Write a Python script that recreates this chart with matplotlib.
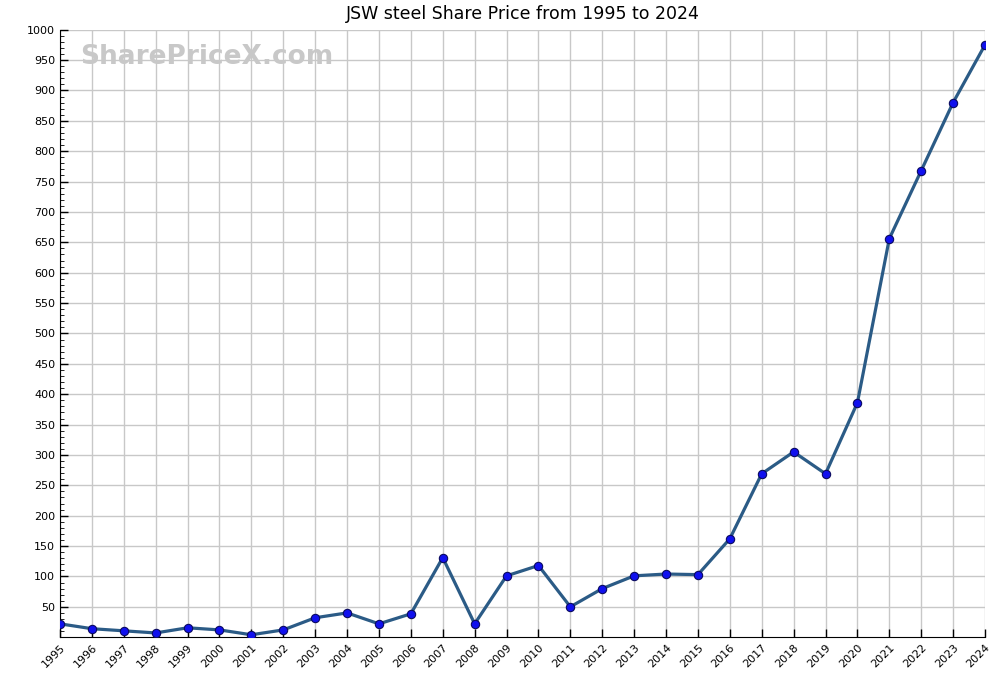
#!/usr/bin/env python3
import matplotlib
matplotlib.use("Agg")
import matplotlib.pyplot as plt
from matplotlib.ticker import MultipleLocator

years = list(range(1995, 2025))
prices = [22, 14, 10.5, 7, 15.5, 12, 4, 12, 32, 40, 22, 38.5, 131, 22, 101,
          118, 50, 80, 101, 104, 103, 162, 269, 305, 269, 386, 656, 768, 880, 975]
yticks = list(range(50, 1001, 50))

fig = plt.figure(figsize=(10, 6.75), dpi=100)
ax = fig.add_axes([0.06, 0.056, 0.925, 0.9])

ax.plot(years, prices, color="#2b5b86", linewidth=2.3, zorder=3)
ax.plot(years, prices, linestyle="none", marker="o", markersize=6,
        markerfacecolor="#1010ee", markeredgecolor="#0a0a60", markeredgewidth=0.8, zorder=4)

ax.set_xlim(1995, 2024)
ax.set_ylim(0, 1000)
ax.set_xticks(years)
ax.set_xticklabels([str(y) for y in years], rotation=45, ha="right", rotation_mode="anchor", fontsize=8)
ax.set_yticks(yticks)
ax.set_yticklabels([str(v) for v in yticks], fontsize=8)
ax.yaxis.set_minor_locator(MultipleLocator(10))
ax.tick_params(axis="both", direction="in", length=6, width=1)
ax.tick_params(axis="y", which="minor", direction="in", length=3)
ax.tick_params(axis="x", pad=4)
ax.grid(True, color="#c8c8c8", linewidth=1)
ax.set_axisbelow(True)
for s in ["top", "right"]:
    ax.spines[s].set_visible(False)

ax.set_title("JSW steel Share Price from 1995 to 2024", fontsize=12.5, pad=8)
ax.text(0.022, 0.955, "SharePriceX.com", transform=ax.transAxes, fontsize=19,
        fontweight="bold", color="#c8c8c8", va="center", ha="left", zorder=2)

fig.savefig("out.png", dpi=100)
